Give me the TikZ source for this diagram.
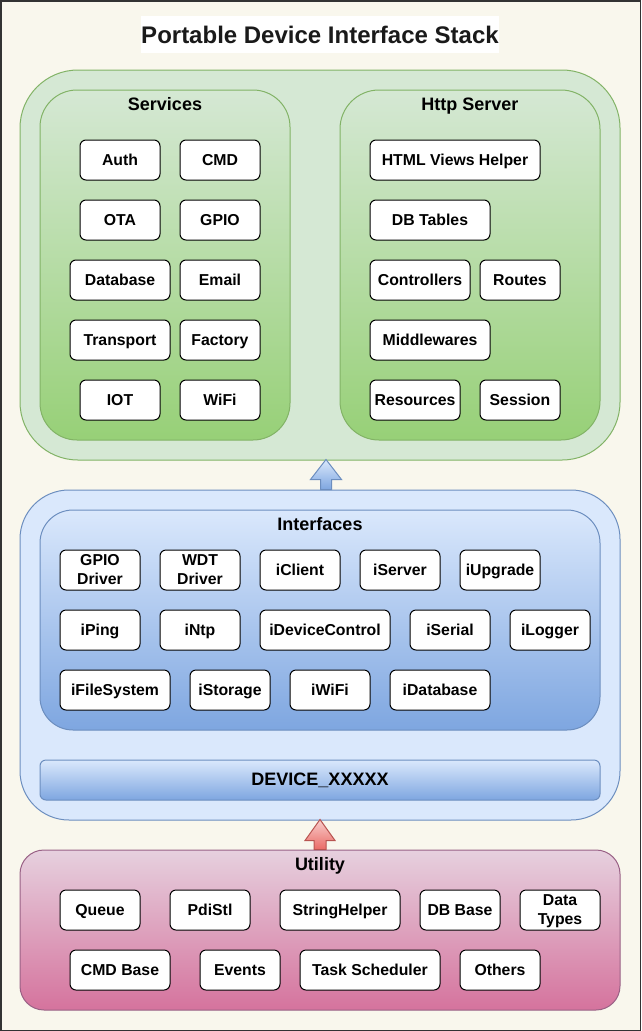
\documentclass[tikz,border=0pt]{standalone}
\usepackage{fontspec}
\setmainfont{Liberation Sans}
\usetikzlibrary{calc}

\begin{document}
\begin{tikzpicture}[
  x=1pt, y=-1pt,
  font=\bfseries\fontsize{15.8}{19}\selectfont,
  every node/.style={inner sep=0pt},
  box/.style={draw=black, fill=white, rounded corners=6, minimum height=40,
    align=center, line width=1pt, text depth=0.6pt},
  layer/.style={rounded corners=#1, line width=1pt},
  grouptitle/.style={font=\bfseries\fontsize{18}{20}\selectfont,
    text height=13pt, text depth=2pt},
]

\definecolor{paper}{HTML}{F9F7ED}
\definecolor{frame}{HTML}{333333}
\definecolor{ink}{HTML}{1A1A1A}
\definecolor{gfill}{HTML}{D5E8D4}
\definecolor{gdeep}{HTML}{97D077}
\definecolor{gline}{HTML}{82B366}
\definecolor{bfill}{HTML}{DAE8FC}
\definecolor{bdeep}{HTML}{7EA6E0}
\definecolor{bline}{HTML}{6C8EBF}
\definecolor{rfill}{HTML}{F8CECC}
\definecolor{rdeep}{HTML}{EA6B66}
\definecolor{rline}{HTML}{B85450}
\definecolor{pfill}{HTML}{E6D0DE}
\definecolor{pdeep}{HTML}{D5739D}
\definecolor{pline}{HTML}{996185}

% page
\useasboundingbox (0,0) rectangle (641,1031);
\fill[paper] (0,0) rectangle (641,1031);
\draw[frame, line width=1.5pt] (0.75,0.75) rectangle (640.25,1030.25);

\node[fill=white, minimum width=358, minimum height=37, text=ink,
  font=\bfseries\fontsize{24}{28}\selectfont] (title) at (320,34.5)
  {Portable Device Interface Stack};

% top layer
\node[layer=58, draw=gline, fill=gfill, minimum width=600, minimum height=390]
  (appLayer) at (320,265) {};
\node[layer=37, draw=gline, top color=gfill, bottom color=gdeep,
  minimum width=250, minimum height=350] (services) at (165,265) {};
\node[layer=39, draw=gline, top color=gfill, bottom color=gdeep,
  minimum width=260, minimum height=350] (http) at (470,265) {};
\node[grouptitle] (servicesTitle) at (165,105) {Services};
\node[grouptitle] (httpTitle) at (470,105) {Http Server};

% middle layer
\node[layer=49, draw=bline, fill=bfill, minimum width=600, minimum height=330]
  (ifaceLayer) at (320,655) {};
\node[layer=33, draw=bline, top color=bfill, bottom color=bdeep,
  minimum width=560, minimum height=220] (interfaces) at (320,620) {};
\node[grouptitle] (interfacesTitle) at (320,525) {Interfaces};
\node[layer=6, draw=bline, top color=bfill, bottom color=bdeep,
  minimum width=560, minimum height=40, text depth=2pt,
  font=\bfseries\fontsize{18}{20}\selectfont]
  (device) at (320,780) {DEVICE\_XXXXX};

% bottom layer
\node[layer=24, draw=pline, top color=pfill, bottom color=pdeep,
  minimum width=600, minimum height=160] (utility) at (320,930) {};
\node[grouptitle] (utilityTitle) at (320,865) {Utility};

\def\servicesRows{%
  auth/80/140/80/{Auth}, cmd/180/140/80/{CMD},
  ota/80/200/80/{OTA}, gpio/180/200/80/{GPIO},
  database/70/260/100/{Database}, email/180/260/80/{Email},
  transport/70/320/100/{Transport}, factory/180/320/80/{Factory},
  iot/80/380/80/{IOT}, wifi/180/380/80/{WiFi}%
}
\def\httpRows{%
  htmlViews/370/140/170/{HTML Views Helper},
  dbTables/370/200/120/{DB Tables},
  controllers/370/260/100/{Controllers}, routes/480/260/80/{Routes},
  middlewares/370/320/120/{Middlewares},
  resources/370/380/90/{Resources}, session/480/380/80/{Session}%
}
\def\ifaceRows{%
  gpioDriver/60/550/80/{GPIO\\Driver}, wdtDriver/160/550/80/{WDT\\Driver},
  iClient/260/550/80/{iClient}, iServer/360/550/80/{iServer},
  iUpgrade/460/550/80/{iUpgrade},
  iPing/60/610/80/{iPing}, iNtp/160/610/80/{iNtp},
  iDeviceControl/260/610/130/{iDeviceControl}, iSerial/410/610/80/{iSerial},
  iLogger/510/610/80/{iLogger},
  iFileSystem/60/670/110/{iFileSystem}, iStorage/190/670/80/{iStorage},
  iWiFi/290/670/80/{iWiFi}, iDatabase/390/670/100/{iDatabase}%
}
\def\utilRows{%
  queue/60/890/80/{Queue}, pdiStl/170/890/80/{PdiStl},
  stringHelper/280/890/120/{StringHelper}, dbBase/420/890/80/{DB Base},
  dataTypes/520/890/80/{Data\\Types},
  cmdBase/70/950/100/{CMD Base}, events/200/950/80/{Events},
  taskScheduler/300/950/140/{Task Scheduler}, others/460/950/80/{Others}%
}

% boxes
\foreach \nm/\x/\y/\w/\txt in \servicesRows {
  \node[box, minimum width=\w] (\nm) at ({\x+\w/2},{\y+20}) {\txt};
}
\foreach \nm/\x/\y/\w/\txt in \httpRows {
  \node[box, minimum width=\w] (\nm) at ({\x+\w/2},{\y+20}) {\txt};
}
\foreach \nm/\x/\y/\w/\txt in \ifaceRows {
  \node[box, minimum width=\w] (\nm) at ({\x+\w/2},{\y+20}) {\txt};
}
\foreach \nm/\x/\y/\w/\txt in \utilRows {
  \node[box, minimum width=\w] (\nm) at ({\x+\w/2},{\y+20}) {\txt};
}

% block arrows between layers
\coordinate (upBlue) at ($(ifaceLayer.north)+(6,0)$);
\coordinate (upRed) at (utility.north);
\path[draw=bline, top color=bfill, bottom color=bdeep, line width=1pt]
  (upBlue) +(-5.5,0) -- +(-5.5,-10) -- +(-15.5,-10) -- +(0,-30)
  -- +(15.5,-10) -- +(5.5,-10) -- +(5.5,0) -- cycle;
\path[draw=rline, top color=rfill, bottom color=rdeep, line width=1pt]
  (upRed) +(-6,0) -- +(-6,-9) -- +(-15,-9) -- +(0,-30)
  -- +(15,-9) -- +(6,-9) -- +(6,0) -- cycle;

\end{tikzpicture}
\end{document}
